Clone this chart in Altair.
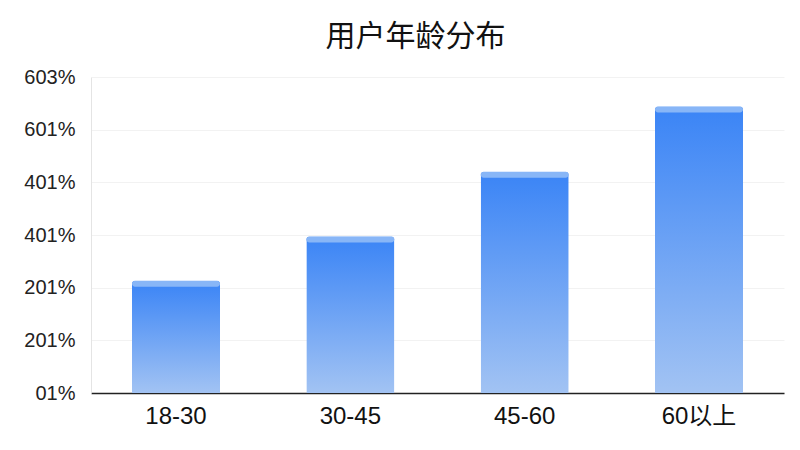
import altair as alt
import pandas as pd

categories = ["18-30", "30-45", "45-60", "60以上"]
values = [21.3, 29.7, 42.0, 54.4]
tick_values = [0, 10, 20, 30, 40, 50, 60]
tick_labels = ["01%", "201%", "201%", "401%", "401%", "601%", "603%"]

df = pd.DataFrame({"cat": categories, "val": values})

label_expr = "{" + ",".join(f"'{v}':'{l}'" for v, l in zip(tick_values, tick_labels)) + "}[datum.value]"

x = alt.X("cat:N", sort=categories, title=None,
          scale=alt.Scale(paddingInner=0.495, paddingOuter=0.235),
          axis=alt.Axis(labelAngle=0, labelFontSize=24, labelColor="#111",
                        labelFont="Liberation Sans, Noto Sans CJK SC",
                        ticks=False, labelPadding=11, domainColor="#222",
                        domainWidth=1.5))
y = alt.Y("val:Q", title=None,
          scale=alt.Scale(domain=[0, 60], nice=False),
          axis=alt.Axis(values=tick_values, labelExpr=label_expr,
                        labelFontSize=20, labelColor="#222",
                        labelFont="Liberation Sans", ticks=False,
                        labelPadding=16, domainColor="#e4e4e4",
                        gridColor="#f2f2f2"))

bars = alt.Chart(df).mark_bar(
    color=alt.Gradient(gradient="linear", x1=0, y1=0, x2=0, y2=1,
                       stops=[alt.GradientStop(color="#3a84f6", offset=0),
                              alt.GradientStop(color="#a2c3f3", offset=1)]),
    cornerRadiusTopLeft=3, cornerRadiusTopRight=3,
).encode(x=x, y=y)

caps = alt.Chart(df).mark_tick(
    color="#88b6f7", thickness=6, size=88, yOffset=3, cornerRadius=3, opacity=1
).encode(x=alt.X("cat:N", sort=categories), y="val:Q")

chart = alt.layer(bars, caps).properties(
    width=693, height=316,
    title=alt.Title("用户年龄分布", font="Noto Sans CJK SC", fontSize=30,
                    fontWeight="normal", color="#111", dx=-22, offset=15),
    autosize=alt.AutoSizeParams(type="none"),
    padding={"left": 83, "top": 69, "right": 8, "bottom": 40},
).configure_view(stroke=None)

chart.save("out.html", embed_options={"renderer": "svg", "actions": False})
